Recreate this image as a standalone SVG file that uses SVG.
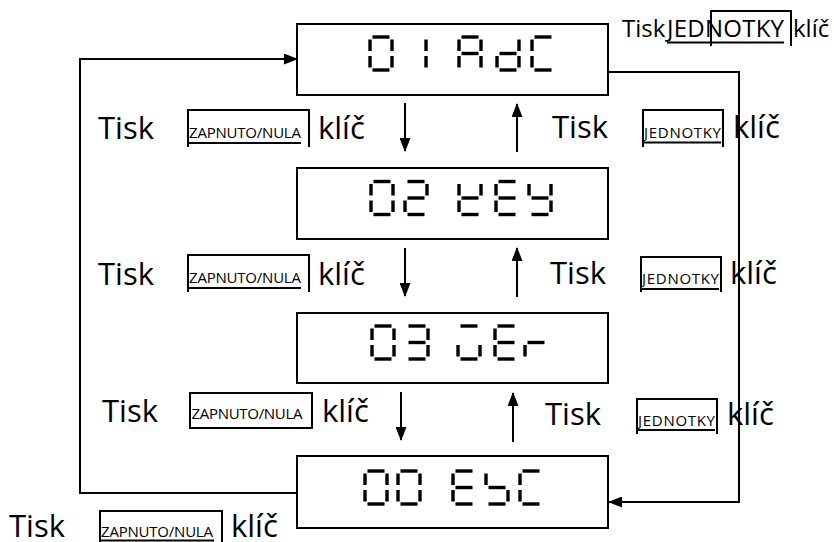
<svg xmlns="http://www.w3.org/2000/svg" width="834" height="542" viewBox="0 0 834 542">
  <style>
    .box { fill: #fff; stroke: #000; stroke-width: 2; }
    .lcd { stroke: #000; stroke-width: 3.4; fill: none; }
    .conn { fill: none; stroke: #000; stroke-width: 2; }
    .kb { fill: none; stroke: #000; stroke-width: 2; }
    .ul { stroke: #000; stroke-width: 2; }
    .big { font-family: "Open Sans", "Noto Sans", sans-serif; font-size: 31px; fill: #000; }
    .key { font-family: "Open Sans", "Noto Sans", sans-serif; font-size: 15px; fill: #000; }
    .hdr { font-family: "Open Sans", "Noto Sans", sans-serif; font-size: 24px; fill: #000; }
  </style>
  <defs>
    <marker id="arrow" markerUnits="userSpaceOnUse" markerWidth="14" markerHeight="11" refX="13" refY="5.5" orient="auto">
      <path d="M0,0 L14,5.5 L0,11 Z" fill="#000"/>
    </marker>
    <!-- seven-segment pieces for a 22 x 33 digit cell -->
    <line id="sa" x1="2.5" y1="0" x2="19.5" y2="0"/>
    <line id="sb" x1="22" y1="2.5" x2="22" y2="14"/>
    <line id="sc" x1="22" y1="19" x2="22" y2="30.5"/>
    <line id="sd" x1="2.5" y1="33" x2="19.5" y2="33"/>
    <line id="se" x1="0" y1="19" x2="0" y2="30.5"/>
    <line id="sf" x1="0" y1="2.5" x2="0" y2="14"/>
    <line id="sg" x1="2.5" y1="16.5" x2="19.5" y2="16.5"/>
  </defs>

  <!-- display: 01 AdC -->
  <g id="node-adc">
    <rect class="box" x="297" y="24" width="311" height="71"/>
    <g class="lcd">
      <g transform="translate(370,37)"><use href="#sa"/><use href="#sb"/><use href="#sc"/><use href="#sd"/><use href="#se"/><use href="#sf"/></g>
      <g transform="translate(404,37)"><use href="#sb"/><use href="#sc"/></g>
      <g transform="translate(459,37)"><use href="#sa"/><use href="#sb"/><use href="#sc"/><use href="#se"/><use href="#sf"/><use href="#sg"/></g>
      <g transform="translate(497,37)"><use href="#sb"/><use href="#sc"/><use href="#sd"/><use href="#se"/><use href="#sg"/></g>
      <g transform="translate(532,37)"><use href="#sa"/><use href="#sd"/><use href="#se"/><use href="#sf"/></g>
    </g>
  </g>

  <!-- display: 02 kEY -->
  <g id="node-key">
    <rect class="box" x="297" y="168" width="311" height="71"/>
    <g class="lcd">
      <g transform="translate(371,181.5)"><use href="#sa"/><use href="#sb"/><use href="#sc"/><use href="#sd"/><use href="#se"/><use href="#sf"/></g>
      <g transform="translate(405,181.5)"><use href="#sa"/><use href="#sb"/><use href="#sg"/><use href="#se"/><use href="#sd"/></g>
      <g transform="translate(459,181.5)"><use href="#sf"/><use href="#sb"/><use href="#sg"/><use href="#se"/><use href="#sd"/></g>
      <g transform="translate(496,181.5)"><use href="#sa"/><use href="#sf"/><use href="#sg"/><use href="#se"/><use href="#sd"/></g>
      <g transform="translate(529,181.5)"><use href="#sf"/><use href="#sb"/><use href="#sg"/><use href="#sc"/><use href="#sd"/></g>
    </g>
  </g>

  <!-- display: 03 VEr -->
  <g id="node-ver">
    <rect class="box" x="297" y="313" width="311" height="70"/>
    <g class="lcd">
      <g transform="translate(372,326)"><use href="#sa"/><use href="#sb"/><use href="#sc"/><use href="#sd"/><use href="#se"/><use href="#sf"/></g>
      <g transform="translate(406,326)"><use href="#sa"/><use href="#sb"/><use href="#sg"/><use href="#sc"/><use href="#sd"/></g>
      <g transform="translate(458,326)"><use href="#sa"/><use href="#sc"/><use href="#sd"/><use href="#se"/></g>
      <g transform="translate(495,326)"><use href="#sa"/><use href="#sf"/><use href="#sg"/><use href="#se"/><use href="#sd"/></g>
      <g transform="translate(525,326)"><use href="#se"/><use href="#sg"/></g>
    </g>
  </g>

  <!-- display: 00 ESC -->
  <g id="node-esc">
    <rect class="box" x="297" y="456" width="311" height="72"/>
    <g class="lcd">
      <g transform="translate(365,471)"><use href="#sa"/><use href="#sb"/><use href="#sc"/><use href="#sd"/><use href="#se"/><use href="#sf"/></g>
      <g transform="translate(398,471)"><use href="#sa"/><use href="#sb"/><use href="#sc"/><use href="#sd"/><use href="#se"/><use href="#sf"/></g>
      <g transform="translate(453,471)"><use href="#sa"/><use href="#sf"/><use href="#sg"/><use href="#se"/><use href="#sd"/></g>
      <g transform="translate(486,471)"><use href="#sf"/><use href="#sg"/><use href="#sc"/><use href="#sd"/></g>
      <g transform="translate(520,471)"><use href="#sa"/><use href="#sd"/><use href="#se"/><use href="#sf"/></g>
    </g>
  </g>

  <!-- transitions -->
  <g id="connectors" class="conn">
    <line x1="405" y1="103" x2="405" y2="151" marker-end="url(#arrow)"/>
    <line x1="517" y1="152" x2="517" y2="104" marker-end="url(#arrow)"/>
    <line x1="405" y1="248" x2="405" y2="296" marker-end="url(#arrow)"/>
    <line x1="517" y1="297" x2="517" y2="248" marker-end="url(#arrow)"/>
    <line x1="401" y1="392" x2="401" y2="440" marker-end="url(#arrow)"/>
    <line x1="513" y1="442" x2="513" y2="393" marker-end="url(#arrow)"/>
    <polyline points="297,493 80,493 80,59 297,59" marker-end="url(#arrow)"/>
    <polyline points="608,72 739,72 739,502 609,502" marker-end="url(#arrow)"/>
  </g>

  <!-- key hints -->
  <g id="label-top-right">
    <text class="hdr" x="622" y="37">Tisk<tspan x="667" textLength="117">JEDNOTKY</tspan><tspan x="793">klíč</tspan></text>
    <line class="ul" x1="667" y1="42.5" x2="784" y2="42.5"/>
    <path class="kb" d="M711,46 V11 H791 V46"/>
  </g>

  <g id="label-row1-left">
    <text class="big" x="98" y="139">Tisk</text>
    <path class="kb" d="M188,147 V110 H309 V147"/>
    <text class="key" x="189" y="138" textLength="112">ZAPNUTO/NULA</text>
    <line class="ul" x1="188" y1="143" x2="301" y2="143"/>
    <text class="big" x="318" y="139">klíč</text>
  </g>
  <g id="label-row1-right">
    <text class="big" x="552" y="138">Tisk</text>
    <path class="kb" d="M643,147 V110 H723 V147"/>
    <text class="key" x="644" y="138" textLength="77">JEDNOTKY</text>
    <line class="ul" x1="643" y1="142.5" x2="721" y2="142.5"/>
    <text class="big" x="733" y="138">klíč</text>
  </g>

  <g id="label-row2-left">
    <text class="big" x="98" y="285">Tisk</text>
    <path class="kb" d="M188,292 V255 H309 V292"/>
    <text class="key" x="189" y="283" textLength="112">ZAPNUTO/NULA</text>
    <line class="ul" x1="188" y1="288" x2="301" y2="288"/>
    <text class="big" x="318" y="285">klíč</text>
  </g>
  <g id="label-row2-right">
    <text class="big" x="550" y="284">Tisk</text>
    <path class="kb" d="M641,292 V257 H721 V292"/>
    <text class="key" x="642" y="284" textLength="77">JEDNOTKY</text>
    <line class="ul" x1="641" y1="289" x2="719" y2="289"/>
    <text class="big" x="730" y="284">klíč</text>
  </g>

  <g id="label-row3-left">
    <text class="big" x="102" y="422">Tisk</text>
    <rect class="kb" x="190" y="393" width="122" height="35"/>
    <text class="key" x="191.5" y="419" textLength="111">ZAPNUTO/NULA</text>
    <text class="big" x="322" y="422">klíč</text>
  </g>
  <g id="label-row3-right">
    <text class="big" x="545" y="425">Tisk</text>
    <path class="kb" d="M637,434 V399 H717 V434"/>
    <text class="key" x="638" y="425.5" textLength="77">JEDNOTKY</text>
    <line class="ul" x1="637" y1="430" x2="715" y2="430"/>
    <text class="big" x="727" y="425">klíč</text>
  </g>

  <g id="label-bottom">
    <text class="big" x="9" y="537">Tisk</text>
    <path class="kb" d="M100,545 V511 H222 V545"/>
    <text class="key" x="101" y="537" textLength="112">ZAPNUTO/NULA</text>
    <line class="ul" x1="100" y1="540.5" x2="214" y2="540.5"/>
    <text class="big" x="231" y="537">klíč</text>
  </g>
</svg>
